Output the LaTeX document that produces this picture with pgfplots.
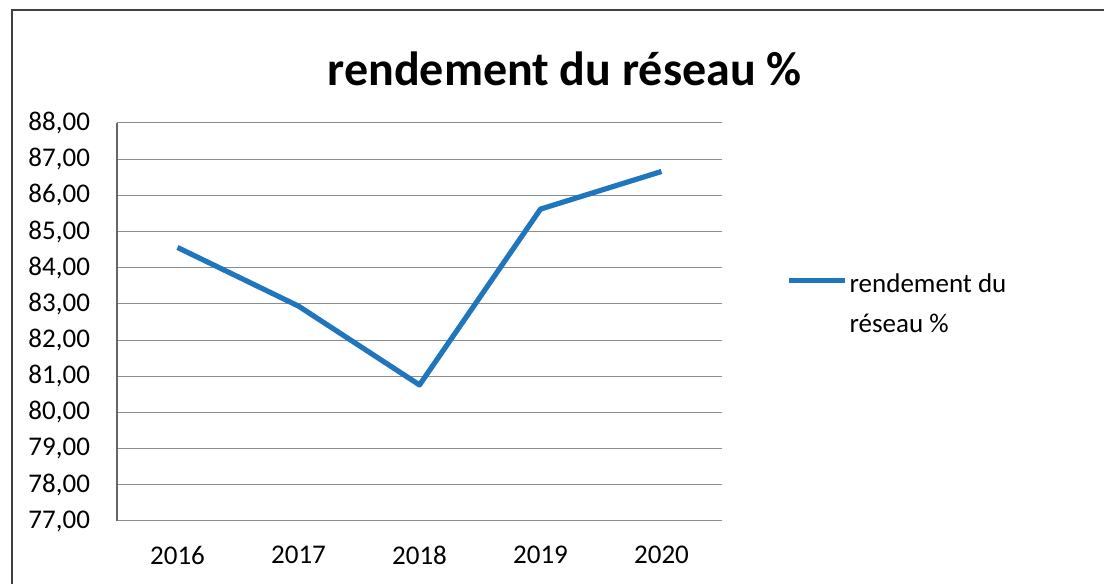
\documentclass[border=0pt]{standalone}
\usepackage{fontspec}
\setmainfont{Carlito}
\usepackage{pgfplots}
\pgfplotsset{compat=1.18}
\definecolor{lineblue}{RGB}{32,118,190}
\definecolor{gridgray}{RGB}{140,140,140}
\begin{document}
\begin{tikzpicture}
\path[use as bounding box] (0,0) rectangle (552pt,292pt);
\draw[black!75, line width=0.8pt] (6pt,0) -- (6pt,287pt) -- (552pt,287pt);
\begin{axis}[
  at={(58.5pt,31.5pt)}, anchor=south west,
  scale only axis,
  width=302.5pt, height=199pt,
  xmin=0.5, xmax=5.5,
  ymin=77, ymax=88,
  xtick={1,2,3,4,5},
  xticklabels={2016,2017,2018,2019,2020},
  ytick={77,78,...,88},
  major tick length=0pt,
  axis lines*=left,
  x axis line style={draw=gridgray, line width=0.5pt},
  y axis line style={draw=black!60, line width=0.6pt},
  ymajorgrids,
  grid style={draw=gridgray, line width=0.5pt},
  /pgf/number format/.cd, fixed, fixed zerofill, precision=2, use comma, assume math mode=true,
  /pgfplots/.cd,
  tick label style={font=\fontsize{13.5}{16}\selectfont},
  yticklabel style={anchor=east, xshift=-10pt},
  xticklabel style={anchor=north, yshift=-9pt},
  title={rendement du réseau \%},
  title style={at={(0.74,1.105)}, anchor=center, font=\fontsize{24}{28}\selectfont\bfseries},
  legend style={draw=none, fill=none, at={(1.096,0.605)}, anchor=west,
    font=\fontsize{13.5}{20}\selectfont, nodes={inner sep=1pt}},
  legend image code/.code={\draw[#1] (0pt,0pt) -- (28pt,0pt);},
]
\addplot[lineblue, line width=2.6pt, line join=round] coordinates {
  (1,84.56) (2,82.94) (3,80.76) (4,85.62) (5,86.66)
};
\addlegendentry{\begin{tabular}[t]{@{}l@{}}rendement du\\réseau \%\end{tabular}}
\end{axis}
\end{tikzpicture}
\end{document}
